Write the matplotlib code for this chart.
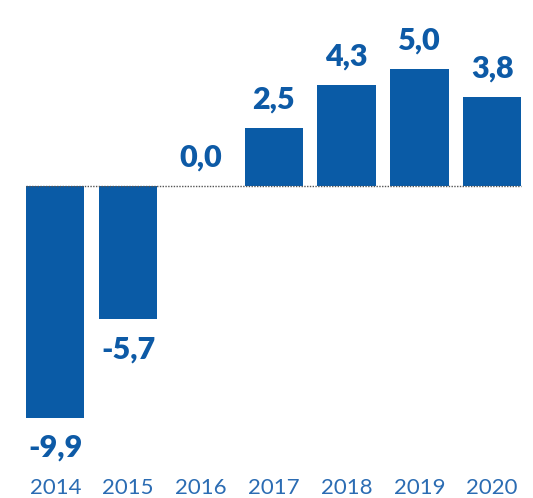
import matplotlib.pyplot as plt
import matplotlib.transforms as mtransforms

years = ["2014", "2015", "2016", "2017", "2018", "2019", "2020"]
values = [-9.9, -5.7, 0.0, 2.5, 4.3, 5.0, 3.8]
labels = ["-9,9", "-5,7", "0,0", "2,5", "4,3", "5,0", "3,8"]

BAR = "#0a5ba6"
TXT = "#0d5aa6"
YEAR = "#2b6cb3"

W, H = 533, 498
fig = plt.figure(figsize=(W / 100, H / 100), dpi=100)
fig.patch.set_facecolor("white")

# axes: zero line at ~186 px from top, ~23.4 px per unit
top_px, bot_px, zero_px, ppu = 30, 460, 186, 23.4
ax = fig.add_axes([0, 1 - bot_px / H, 1, (bot_px - top_px) / H])
ax.set_ylim(-(bot_px - zero_px) / ppu, (zero_px - top_px) / ppu)
ax.set_xlim(-0.76, 6.56)

x = list(range(len(years)))
ax.bar(x, values, width=0.8, color=BAR, zorder=2)
ax.hlines(0, -0.4, 6.4, colors="#555555", linestyles=(0, (1, 1)), linewidth=1.0, zorder=3)

for xi, v, lab in zip(x, values, labels):
    dy = -28 if v < 0 else 14
    ax.annotate(lab, (xi, v), xytext=(0, dy), textcoords="offset points",
                ha="center", va="baseline", fontsize=22, fontweight="heavy",
                color=TXT, family="Lato")

trans = mtransforms.blended_transform_factory(ax.transData, fig.transFigure)
for xi, yr in zip(x, years):
    fig.text(xi, 1 - 488 / H, yr, transform=trans, ha="center", va="center",
             fontsize=16, color=YEAR, family="Lato")

ax.axis("off")
fig.savefig("out.png", dpi=100, facecolor="white")
